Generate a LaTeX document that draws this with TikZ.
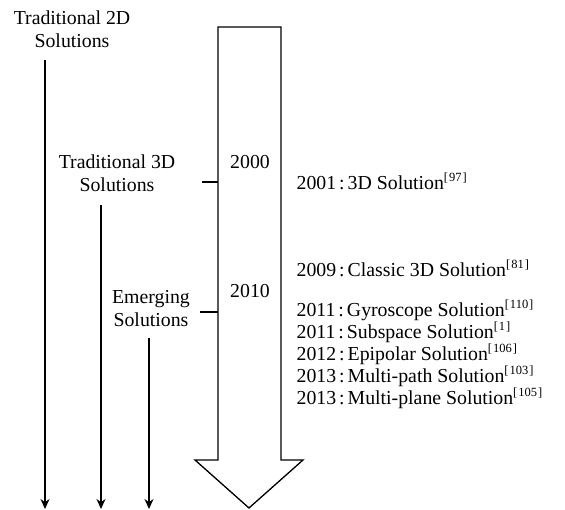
\documentclass[tikz,border=0pt]{standalone}
\usepackage{fontspec}
\setmainfont{Liberation Serif}
\usetikzlibrary{arrows.meta}
\newcommand{\refmark}[1]{\raisebox{0.45em}{\fontsize{12.5}{12.5}\selectfont[\kern1pt#1\kern1pt]}}
\newcommand{\yrsep}{\kern3pt:\kern3pt}
\begin{document}
\begin{tikzpicture}[x=1pt,y=-1pt,line width=1.2pt,
  lbl/.style={align=center,font=\fontsize{19.8}{23}\selectfont,inner sep=0pt},
  yr/.style={anchor=base west,font=\fontsize{19.8}{22}\selectfont,inner sep=0pt},
  down/.style={-{Stealth[length=10pt,width=9pt]},line width=1.2pt}]
\useasboundingbox (0,0) rectangle (565,510);
% big arrow
\draw[line width=1.3pt] (218,27) -- (281,27) -- (281,460) -- (303,460) -- (249,508) -- (195,460) -- (218,460) -- cycle;
\coordinate (shaftL3) at (218,182);
\coordinate (shaftLE) at (218,312);
% labels
\node[lbl] (t2d) at (72,29) {Traditional 2D\\Solutions};
\node[lbl] (t3d) at (117,173) {Traditional 3D\\Solutions};
\node[lbl] (em) at (151,309) {Emerging\\Solutions};
\node[lbl] (y2000) at (250,162) {2000};
\node[lbl] (y2010) at (250,291) {2010};
% connectors
\coordinate (e1) at (45,509);
\coordinate (e2) at (101,509);
\coordinate (e3) at (149,509);
\draw[down] (45,60) -- (e1);
\draw[down] (101,205) -- (e2);
\draw[down] (149,338) -- (e3);
\draw (202,182) -- (shaftL3);
\draw (200,312) -- (shaftLE);
% right entries
\node[yr] (r1) at (296,190) {2001\yrsep 3D Solution\refmark{97}};
\node[yr] (r2) at (296,277) {2009\yrsep Classic 3D Solution\refmark{81}};
\node[yr] (r3) at (296,317) {2011\yrsep Gyroscope Solution\refmark{110}};
\node[yr] (r4) at (296,339) {2011\yrsep Subspace Solution\refmark{1}};
\node[yr] (r5) at (296,361) {2012\yrsep Epipolar Solution\refmark{106}};
\node[yr] (r6) at (296,383) {2013\yrsep Multi-path Solution\refmark{103}};
\node[yr] (r7) at (296,405) {2013\yrsep Multi-plane Solution\refmark{105}};
\end{tikzpicture}
\end{document}
